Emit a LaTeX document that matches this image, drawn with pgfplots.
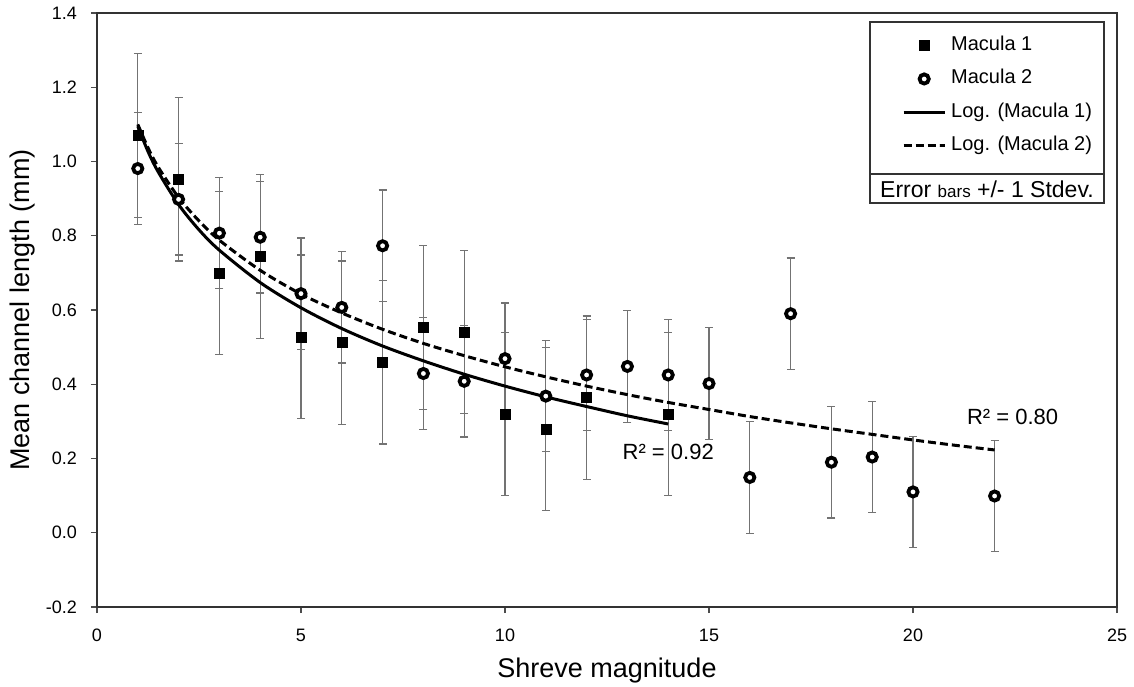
\documentclass[border=0pt]{standalone}
\usepackage{fontspec}
\setmainfont{Liberation Sans}
\usepackage{pgfplots}
\pgfplotsset{compat=1.18}

\begin{document}
\begin{tikzpicture}
\begin{axis}[
  scale only axis, width=510pt, height=297pt,
  xmin=0, xmax=25, ymin=-0.2, ymax=1.4,
  xtick={0,5,10,15,20,25},
  ytick={-0.2,0,0.2,0.4,0.6,0.8,1.0,1.2,1.4},
  tick align=outside, tick pos=left,
  major tick length=3pt,
  every tick/.style={black!70, line width=0.6pt},
  axis line style={black!80, line width=1pt},
  tick label style={font=\fontsize{9}{10}\selectfont},
  /pgf/number format/assume math mode=true,
  yticklabel style={/pgf/number format/.cd, fixed, fixed zerofill, precision=1, /tikz/.cd, xshift=-3.5pt},
  xticklabel style={yshift=-4.5pt},
  xlabel={Shreve magnitude}, ylabel={Mean channel length (mm)},
  label style={font=\fontsize{13.5}{16}\selectfont},
  xlabel style={at={(axis description cs:0.5,-0.1077)}, anchor=center},
  ylabel style={at={(axis description cs:-0.0735,0.5)}, anchor=center},
  legend style={at={(rel axis cs:0.789,0.961)}, anchor=north west, draw=none, fill=none,
    inner sep=0pt, font=\fontsize{10}{12}\selectfont, row sep=7.7pt, column sep=2.5pt,
    nodes={inner sep=0pt, text height=7pt, text depth=2pt}},
  legend cell align=left,
  legend image code/.code={\draw[mark repeat=2,mark phase=2,#1] plot coordinates {(0pt,0pt) (10.25pt,0pt) (20.5pt,0pt)};},
]
% Macula 1
\addplot[only marks, mark=square*, mark size=2.5pt, black,
  mark options={fill=black, draw=black, line width=0.2pt},
  error bars/.cd, y dir=both, y explicit, error mark=-,
  error bar style={black!55, line width=0.6pt},
  error mark options={rotate=90, black!55, line width=0.6pt, mark size=2pt}]
coordinates {
(1,1.070) +- (0,0.22)
(2,0.952) +- (0,0.22)
(3,0.700) +- (0,0.22)
(4,0.744) +- (0,0.22)
(5,0.528) +- (0,0.22)
(6,0.512) +- (0,0.22)
(7,0.459) +- (0,0.22)
(8,0.553) +- (0,0.22)
(9,0.541) +- (0,0.22)
(10,0.320) +- (0,0.22)
(11,0.280) +- (0,0.22)
(12,0.364) +- (0,0.22)
(14,0.320) +- (0,0.22)
};
\addlegendentry{Macula 1}
% Macula 2
\addplot[only marks, mark=*, mark size=2.3pt, black,
  mark options={fill=white, draw=black, line width=1.9pt},
  error bars/.cd, y dir=both, y explicit, error mark=-,
  error bar style={black!55, line width=0.6pt},
  error mark options={rotate=90, black!55, line width=0.6pt, mark size=2pt}]
coordinates {
(1,0.981) +- (0,0.15)
(2,0.898) +- (0,0.15)
(3,0.807) +- (0,0.15)
(4,0.796) +- (0,0.15)
(5,0.644) +- (0,0.15)
(6,0.607) +- (0,0.15)
(7,0.773) +- (0,0.15)
(8,0.429) +- (0,0.15)
(9,0.408) +- (0,0.15)
(10,0.469) +- (0,0.15)
(11,0.368) +- (0,0.15)
(12,0.425) +- (0,0.15)
(13,0.448) +- (0,0.15)
(14,0.425) +- (0,0.15)
(15,0.402) +- (0,0.15)
(16,0.149) +- (0,0.15)
(17,0.590) +- (0,0.15)
(18,0.190) +- (0,0.15)
(19,0.204) +- (0,0.15)
(20,0.110) +- (0,0.15)
(22,0.099) +- (0,0.15)
};
\addlegendentry{Macula 2}
% Log trend Macula 1
\addplot[black, line width=1.5pt, smooth, no marks] coordinates {
(1,1.095) (1.25,1.027) (1.5,0.972) (2,0.884) (2.5,0.816) (3,0.761) (4,0.674)
(5,0.606) (6,0.550) (7,0.503) (8,0.463) (9,0.427) (10,0.395) (11,0.366)
(12,0.340) (13,0.315) (14,0.293)
};
\addlegendentry{Log. (Macula 1)}
% Log trend Macula 2
\addplot[black, line width=1.5pt, smooth, no marks, dash pattern=on 4pt off 2pt] coordinates {
(1,1.100) (1.25,1.037) (1.5,0.985) (2,0.903) (2.5,0.840) (3,0.788) (4,0.707)
(5,0.643) (6,0.592) (7,0.548) (8,0.510) (9,0.477) (10,0.447) (11,0.420)
(12,0.395) (13,0.372) (14,0.351) (15,0.332) (16,0.313) (17,0.296) (18,0.280)
(19,0.265) (20,0.250) (21,0.236) (22,0.223)
};
\addlegendentry{Log. (Macula 2)}
\node[font=\fontsize{11}{13}\selectfont] at (axis cs:14.0,0.218) {R² = 0.92};
\node[font=\fontsize{11}{13}\selectfont] at (axis cs:22.44,0.311) {R² = 0.80};
% legend frame
\draw[black!80, line width=0.8pt, fill=white] (rel axis cs:0.7578,0.6801) rectangle (rel axis cs:0.9873,0.9848);
\draw[black!80, line width=0.8pt] (rel axis cs:0.7578,0.7290) -- (rel axis cs:0.9873,0.7290);
\node[font=\fontsize{11.5}{13}\selectfont, inner sep=0pt] at (rel axis cs:0.8725,0.7037) {Error {\fontsize{8.5}{10}\selectfont bars} +/- 1 Stdev.};
\end{axis}
\pgfresetboundingbox
\path ([xshift=-48.5pt,yshift=-39.5pt]current axis.south west) rectangle ([xshift=8.5pt,yshift=6.5pt]current axis.north east);
\end{tikzpicture}
\end{document}
